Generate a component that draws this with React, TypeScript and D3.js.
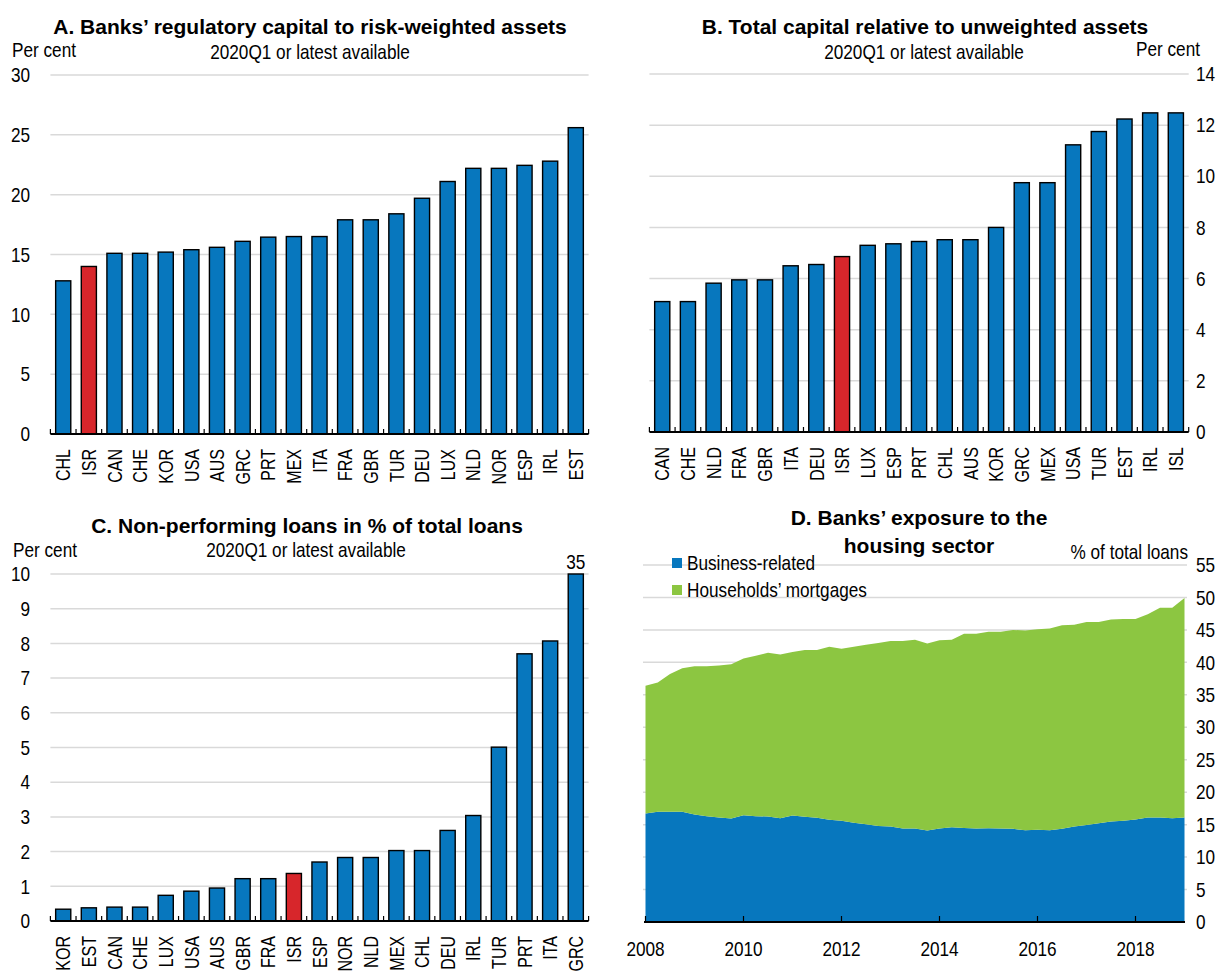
import React from 'react';
import * as d3 from 'd3';

const FONT = "'Liberation Sans',Arial,sans-serif";
const SX = 0.86; // regular text condensation
const SXR = 0.8; // rotated category labels
const BLUE = '#0777BE';
const RED = '#D7262B';
const GREEN = '#8CC641';
const GRID = '#D9D9D9';

// Panel A
const catsA = ['CHL','ISR','CAN','CHE','KOR','USA','AUS','GRC','PRT','MEX','ITA','FRA','GBR','TUR','DEU','LUX','NLD','NOR','ESP','IRL','EST'];
const valsA = [12.8,14.0,15.1,15.1,15.2,15.4,15.6,16.1,16.45,16.5,16.5,17.9,17.9,18.4,19.7,21.1,22.2,22.2,22.45,22.8,25.6];
const ticksA = [0,5,10,15,20,25,30];

// Panel B
const catsB = ['CAN','CHE','NLD','FRA','GBR','ITA','DEU','ISR','LUX','ESP','PRT','CHL','AUS','KOR','GRC','MEX','USA','TUR','EST','IRL','ISL'];
const valsB = [5.1,5.1,5.82,5.95,5.95,6.5,6.55,6.86,7.3,7.36,7.45,7.52,7.52,8.0,9.75,9.75,11.23,11.75,12.24,12.48,12.48];
const ticksB = [0,2,4,6,8,10,12,14];

// Panel C
const catsC = ['KOR','EST','CAN','CHE','LUX','USA','AUS','GBR','FRA','ISR','ESP','NOR','NLD','MEX','CHL','DEU','IRL','TUR','PRT','ITA','GRC'];
const valsC = [0.34,0.38,0.4,0.4,0.74,0.86,0.95,1.22,1.22,1.37,1.7,1.83,1.83,2.03,2.03,2.61,3.04,5.01,7.7,8.07,35];
const ticksC = [0,1,2,3,4,5,6,7,8,9,10];

// Panel D (quarterly, 2008Q1 - 2019Q1)
const businessD = [16.7,17.0,17.0,17.0,16.55,16.3,16.1,15.95,16.45,16.3,16.25,16.0,16.4,16.2,16.05,15.75,15.6,15.3,15.05,14.8,14.7,14.4,14.4,14.1,14.4,14.6,14.5,14.4,14.45,14.4,14.35,14.15,14.2,14.15,14.35,14.7,14.95,15.2,15.5,15.6,15.8,16.1,16.1,16.0,16.1];
const mortgagesD = [19.7,19.9,21.2,22.1,22.85,23.1,23.4,23.75,24.15,24.7,25.25,25.2,25.2,25.7,25.85,26.65,26.5,27.1,27.65,28.2,28.6,28.9,29.1,28.8,29.0,28.9,29.9,30.0,30.25,30.3,30.65,30.75,30.9,31.05,31.35,31.1,31.25,31.0,31.1,31.1,30.9,31.3,32.3,32.4,33.8];
const periodsD = businessD.map((_, i) => 2008 + i / 4);
const ticksD = [0,5,10,15,20,25,30,35,40,45,50,55];
const yearTicksD = [2008,2010,2012,2014,2016,2018];
const legendD = ['Business-related', "Households\u2019 mortgages"];

type TProps = {
  x: number; y: number; anchor?: 'start' | 'middle' | 'end'; size?: number; bold?: boolean;
  rotate?: boolean; dy?: string; sx?: number; children: React.ReactNode;
};
function T({ x, y, anchor = 'start', size = 20, bold = false, rotate = false, dy, sx, children }: TProps) {
  const s = sx ?? (bold ? 1 : rotate ? SXR : SX);
  return (
    <text transform={`translate(${x},${y})${rotate ? ' rotate(-90)' : ''} scale(${s},1)`}
      textAnchor={anchor} fontSize={size} fontWeight={bold ? 'bold' : 'normal'} fontFamily={FONT} dy={dy} fill="#000">
      {children}
    </text>
  );
}

type BarProps = {
  cats: string[]; vals: number[]; ticks: number[];
  x0: number; x1: number; yTopPx: number; yZeroPx: number; yMax: number;
  side: 'left' | 'right'; labelX: number;
};

function BarPanel(p: BarProps) {
  const x = d3.scaleBand<string>().domain(p.cats).range([p.x0, p.x1]).paddingInner(0.41).paddingOuter(0.205);
  const y = d3.scaleLinear().domain([0, p.yMax]).range([p.yZeroPx, p.yTopPx]);
  const step = x.step();
  const bounds = p.cats.map((c) => (x(c) as number) - (step - x.bandwidth()) / 2);
  bounds.push(p.x1);
  return (
    <g>
      {p.ticks.map((t) => (
        <g key={t}>
          {t > 0 && <line x1={p.x0} x2={p.x1} y1={y(t)} y2={y(t)} stroke={GRID} strokeWidth={1.5} />}
          <T x={p.labelX} y={y(t)} dy="0.36em" anchor={p.side === 'left' ? 'end' : 'start'}>{t}</T>
        </g>
      ))}
      {p.cats.map((c, i) => {
        const v = Math.min(p.vals[i], p.yMax);
        return (
          <rect key={c} x={x(c)} width={x.bandwidth()} y={y(v)} height={y(0) - y(v)}
            fill={c === 'ISR' ? RED : BLUE} stroke="#000" strokeWidth={1.4} />
        );
      })}
      {p.cats.map((c, i) => p.vals[i] > p.yMax ? (
        <T key={'o' + c} x={(x(c) as number) + x.bandwidth() / 2} y={y(p.yMax) - 5} anchor="middle">{p.vals[i]}</T>
      ) : null)}
      <line x1={p.x0} x2={p.x1} y1={y(0)} y2={y(0)} stroke="#000" strokeWidth={2} />
      {bounds.map((b, i) => (
        <line key={'t' + i} x1={b} x2={b} y1={y(0)} y2={y(0) - 5} stroke="#000" strokeWidth={1.2} />
      ))}
      {p.cats.map((c) => (
        <T key={'l' + c} x={(x(c) as number) + x.bandwidth() / 2} y={y(0) + 15} rotate anchor="end" dy="0.36em">{c}</T>
      ))}
    </g>
  );
}

function AreaPanel() {
  const x = d3.scaleLinear().domain([2008, 2019]).range([645.5, 1184.5]);
  const y = d3.scaleLinear().domain([0, 55]).range([922, 565]);
  const rows = periodsD.map((p, i) => ({ p, business: businessD[i], mortgages: mortgagesD[i] }));
  const series = d3.stack<any>().keys(['business', 'mortgages'])(rows);
  const area = d3.area<any>().x((d) => x(d.data.p)).y0((d) => y(d[0])).y1((d) => y(d[1]));
  const colors = [BLUE, GREEN];
  return (
    <g>
      {ticksD.map((t) => (
        <g key={t}>
          {t > 0 && <line x1={643} x2={1187} y1={y(t)} y2={y(t)} stroke={GRID} strokeWidth={1.5} />}
          <T x={1196} y={y(t)} dy="0.36em">{t}</T>
        </g>
      ))}
      {series.map((s, i) => (
        <path key={i} d={area(s as any) as string} fill={colors[i]} />
      ))}
      <line x1={644} x2={1185} y1={y(0)} y2={y(0)} stroke="#000" strokeWidth={2} />
      {yearTicksD.map((t) => (
        <g key={t}>
          <line x1={x(t)} x2={x(t)} y1={y(0)} y2={y(0) - 6} stroke="#000" strokeWidth={1.2} />
          <T x={x(t)} y={956} anchor="middle">{t}</T>
        </g>
      ))}
      {legendD.map((l, i) => (
        <g key={l}>
          <rect x={672} y={558 + i * 27} width={10} height={10} fill={colors[i]} />
          <T x={687} y={570 + i * 27}>{l}</T>
        </g>
      ))}
      <T x={1188} y={559} anchor="end">% of total loans</T>
      <T x={919} y={525} anchor="middle" size={21} bold>D. Banks’ exposure to the</T>
      <T x={919} y={553} anchor="middle" size={21} bold>housing sector</T>
    </g>
  );
}

export default function App() {
  return (
    <svg width={1221} height={971} style={{ position: 'absolute', left: 0, top: 0, background: '#fff' }}>
      <rect width={1221} height={971} fill="#fff" />
      {/* Panel A */}
      <T x={310} y={34} anchor="middle" size={21} bold>A. Banks’ regulatory capital to risk-weighted assets</T>
      <T x={310} y={59} anchor="middle">2020Q1 or latest available</T>
      <T x={12} y={57}>Per cent</T>
      <BarPanel cats={catsA} vals={valsA} ticks={ticksA} x0={50.4} x1={588.6} yTopPx={75} yZeroPx={434} yMax={30} side="left" labelX={30} />

      {/* Panel B */}
      <T x={925} y={34} anchor="middle" size={21} bold>B. Total capital relative to unweighted assets</T>
      <T x={924} y={59} anchor="middle">2020Q1 or latest available</T>
      <T x={1200} y={56} anchor="end">Per cent</T>
      <BarPanel cats={catsB} vals={valsB} ticks={ticksB} x0={649.4} x1={1188.7} yTopPx={74} yZeroPx={432} yMax={14} side="right" labelX={1196} />

      {/* Panel C */}
      <T x={307} y={533} anchor="middle" size={21} bold>C. Non-performing loans in % of total loans</T>
      <T x={306} y={557} anchor="middle">2020Q1 or latest available</T>
      <T x={13} y={557}>Per cent</T>
      <BarPanel cats={catsC} vals={valsC} ticks={ticksC} x0={50.4} x1={588.6} yTopPx={574} yZeroPx={921} yMax={10} side="left" labelX={30} />

      {/* Panel D */}
      <AreaPanel />
    </svg>
  );
}
